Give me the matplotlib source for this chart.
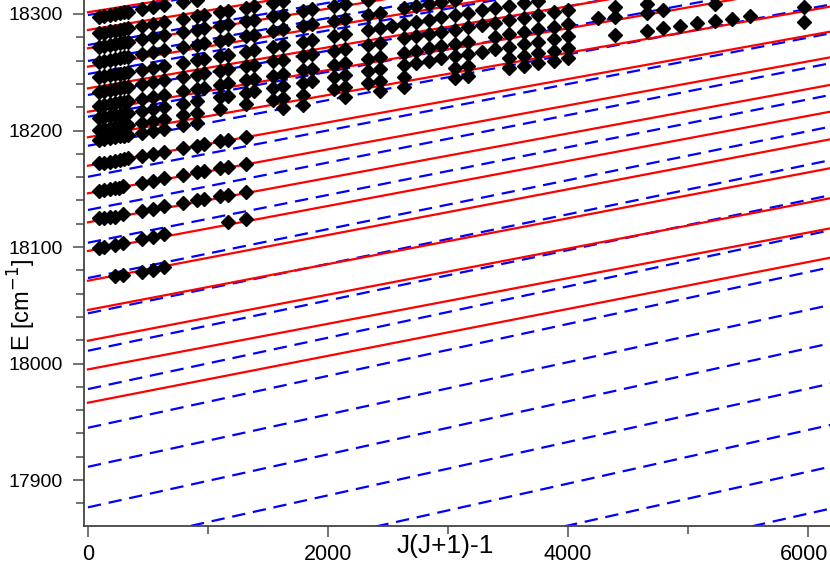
import matplotlib
matplotlib.use("Agg")
import matplotlib.pyplot as plt
import matplotlib.transforms as mtransforms
from matplotlib.ticker import MultipleLocator

plt.rcParams['font.family'] = ['Liberation Sans', 'DejaVu Sans']

# Red (solid) level lines: energy at J(J+1)-1 = 0 and slope (B value)
red_E0 = [17966.4, 17995.0, 18019.6, 18046.0, 18071.1, 18096.6, 18121.2, 18146.1,
          18169.8, 18194.2, 18216.1, 18236.2, 18254.8, 18270.6, 18286.3, 18301.5]
red_B = [0.02012, 0.01957, 0.01977, 0.01967, 0.01962, 0.01933, 0.01907, 0.01887,
         0.0186, 0.01813, 0.0179, 0.0176, 0.0173, 0.0170, 0.0167, 0.0164]

# Blue (dashed) level lines
blue_E0 = [17732.0, 17768.6, 17805.0, 17841.1, 17876.6, 17911.4, 17944.9, 17978.1,
           18011.0, 18043.1, 18073.4, 18103.7, 18131.8, 18160.3, 18186.9, 18211.8,
           18230.5, 18248.5, 18259.7, 18273.4, 18299.1]
blue_B = [0.0232, 0.0231, 0.0230, 0.0229, 0.02276, 0.02245, 0.02227, 0.02204,
          0.02158, 0.02125, 0.0210, 0.0205, 0.02036, 0.0199, 0.0196, 0.0193,
          0.0190, 0.0187, 0.0184, 0.0181, 0.0178]

# ---- Observed term values (black diamonds), x = J(J+1)-1 ----
rowA_x = [225, 294, 447, 539, 633]
rowA_E = [18075.5, 18076.0, 18079.0, 18080.5, 18082.5]
rowB_x = [92, 133, 225, 294, 447, 539, 633, 1169, 1314]
rowB_E = [18099.5, 18100.0, 18102.0, 18103.5, 18107.0, 18108.5, 18111.0, 18121.5, 18124.0]
rowC_x = [92, 133, 183, 225, 294, 447, 539, 633, 794, 906, 967, 1100, 1169, 1314]
rowC_E = [18124.5, 18125.0, 18125.5, 18126.0, 18128.0, 18131.0, 18133.0, 18135.0,
          18138.0, 18140.0, 18141.0, 18144.0, 18145.0, 18147.5]
rowD_x = [92, 133, 183, 225, 260, 294, 447, 539, 633, 794, 906, 967, 1100, 1169, 1314]
rowD_E = [18148.5, 18149.0, 18149.5, 18150.5, 18151.0, 18152.0, 18155.0, 18157.0,
          18159.0, 18162.0, 18164.0, 18165.0, 18167.5, 18169.0, 18171.5]
rowE_x = [92, 133, 183, 225, 270, 300, 330, 447, 539, 633, 794, 906, 967, 1100, 1169, 1314]
rowE_E = [18171.8, 18172.5, 18173.4, 18174.1, 18175.0, 18175.5, 18176.0, 18178.2,
          18180.0, 18181.8, 18184.8, 18186.9, 18188.1, 18190.6, 18191.9, 18194.6]

r1_x = [92, 133, 183, 225, 270, 300, 330, 450, 540, 635, 795, 905]
r1_E = [18297.7, 18298.4, 18299.3, 18300.1, 18300.9, 18301.4, 18301.9, 18304.1,
        18305.7, 18307.4, 18310.3, 18312.3]
r2_x = [92, 133, 183, 225, 270, 300, 330, 450, 540, 635, 795, 905, 965, 1100, 1170,
        1315, 1385, 1545, 1625]
r2_E = [18283.4, 18284.1, 18285.0, 18285.8, 18286.6, 18287.1, 18287.6, 18289.8,
        18291.4, 18293.1, 18296.0, 18298.0, 18299.1, 18301.5, 18302.8, 18305.4,
        18306.6, 18309.5, 18311.0]
r3_x = [92, 133, 183, 225, 270, 300, 330, 450, 540, 635, 795, 905, 965, 1100, 1170,
        1315, 1385, 1545, 1625, 1790, 1870, 2050, 2140, 2330]
r3_E = [18271.9, 18272.6, 18273.5, 18274.3, 18275.1, 18275.6, 18276.1, 18278.3,
        18279.9, 18281.6, 18284.5, 18286.5, 18287.6, 18290.0, 18291.3, 18293.9,
        18295.1, 18298.0, 18299.5, 18302.4, 18303.9, 18307.1, 18308.7, 18312.1]
r4_x = [92, 133, 183, 225, 270, 300, 330, 450, 540, 635, 795, 905, 965, 1100, 1170,
        1315, 1385, 1545, 1625, 1790, 1870, 2050, 2140, 2330, 2430, 2635, 2735,
        2840, 2945, 3055]
r4_E = [18259.1, 18259.8, 18260.7, 18261.5, 18262.3, 18262.8, 18263.3, 18265.5,
        18267.1, 18268.8, 18271.7, 18273.7, 18274.8, 18277.2, 18278.5, 18281.1,
        18282.3, 18285.2, 18286.7, 18289.6, 18291.1, 18294.3, 18295.9, 18299.3,
        18301.1, 18304.8, 18306.6, 18308.5, 18310.4, 18312.4]
r5_x = [92, 133, 183, 225, 270, 300, 330, 450, 540, 635, 795, 905, 965, 1100, 1170,
        1315, 1385, 1545, 1625, 1790, 1870, 2050, 2140, 2330, 2430, 2530, 2635,
        2735, 2840, 2945, 3055, 3165, 3280, 3390, 3510, 3630, 3750]
r5_E = [18245.7, 18246.4, 18247.3, 18248.1, 18248.9, 18249.4, 18249.9, 18252.1,
        18253.7, 18255.4, 18258.3, 18260.3, 18261.4, 18263.8, 18265.1, 18267.7,
        18268.9, 18271.8, 18273.3, 18276.2, 18277.7, 18280.9, 18282.5, 18285.9,
        18287.7, 18289.5, 18291.4, 18293.2, 18295.1, 18297.0, 18299.0, 18301.0,
        18303.0, 18305.0, 18307.2, 18309.3, 18311.5]
r6_x = [92, 133, 183, 225, 270, 300, 330, 450, 540, 635, 795, 905, 965, 1100, 1170,
        1315, 1385, 1545, 1625, 1790, 1870, 2050, 2140, 2330, 2430, 2635, 2735,
        2840, 2945, 3055, 3165, 3280, 3390, 3510, 3630, 3750, 3880, 4000]
r6_E = [18233.3, 18234.0, 18234.9, 18235.7, 18236.5, 18237.0, 18237.5, 18239.7,
        18241.3, 18243.0, 18245.9, 18247.9, 18249.0, 18251.4, 18252.7, 18255.3,
        18256.5, 18259.4, 18260.9, 18263.8, 18265.3, 18268.5, 18270.1, 18273.5,
        18275.3, 18279.0, 18280.8, 18282.7, 18284.6, 18286.6, 18288.6, 18290.6,
        18292.6, 18294.8, 18296.9, 18299.1, 18301.4, 18303.6]
r7_x = [92, 133, 183, 225, 270, 300, 330, 450, 540, 635, 795, 905, 965, 1100, 1170,
        1315, 1385, 1545, 1625, 1790, 1870, 2050, 2140, 2330, 2430, 2635, 2735,
        2840, 2945, 3055, 3165, 3390, 3510, 3630, 3750, 3880, 4000]
r7_E = [18221.0, 18221.7, 18222.6, 18223.4, 18224.2, 18224.7, 18225.2, 18227.4,
        18229.0, 18230.7, 18233.6, 18235.6, 18236.7, 18239.1, 18240.4, 18243.0,
        18244.2, 18247.1, 18248.6, 18251.5, 18253.0, 18256.2, 18257.8, 18261.2,
        18263.0, 18266.7, 18268.5, 18270.4, 18272.3, 18274.3, 18276.3, 18280.3,
        18282.5, 18284.6, 18286.8, 18289.1, 18291.3]
r8_x = [92, 133, 183, 225, 270, 300, 330, 450, 540, 635, 795, 905, 1100, 1170, 1315,
        1385, 1545, 1625, 1790, 1870, 2050, 2140, 2330, 2430, 2635, 2735, 2840,
        2945, 3055, 3165, 3280, 3390, 3510, 3630, 3750, 3880, 4000]
r8_E = [18210.5, 18211.2, 18212.1, 18212.9, 18213.7, 18214.2, 18214.7, 18216.9,
        18218.5, 18220.2, 18223.1, 18225.1, 18228.6, 18229.9, 18232.5, 18233.7,
        18236.6, 18238.1, 18241.0, 18242.5, 18245.7, 18247.3, 18250.7, 18252.5,
        18256.2, 18258.0, 18259.9, 18261.8, 18263.8, 18265.8, 18267.8, 18269.8,
        18272.0, 18274.1, 18276.3, 18278.6, 18280.8]
r9_x = [92, 133, 183, 225, 270, 300, 330, 450, 540, 635, 795, 905, 1100, 1315, 1545,
        1625, 1790, 2050, 2140, 2330, 2430, 2635, 3055, 3165, 3510, 3630, 3750,
        3880, 4000]
r9_E = [18200.4, 18201.1, 18202.0, 18202.8, 18203.6, 18204.1, 18204.6, 18206.8,
        18208.4, 18210.1, 18213.0, 18215.0, 18218.5, 18222.4, 18226.5, 18228.0,
        18230.9, 18235.6, 18237.2, 18240.6, 18242.4, 18246.1, 18253.7, 18255.7,
        18261.9, 18264.0, 18266.2, 18268.5, 18270.7]
r10_x = [92, 133, 183, 225, 270, 300, 330, 450, 540, 635, 795, 905, 1625, 1790, 2140,
         2430, 2635, 3055, 3165, 3510, 3630, 3750, 3880, 4000]
r10_E = [18191.8, 18192.5, 18193.4, 18194.2, 18195.0, 18195.5, 18196.0, 18198.2,
         18199.8, 18201.5, 18204.4, 18206.4, 18219.4, 18222.3, 18228.6, 18233.8,
         18237.5, 18245.1, 18247.1, 18253.3, 18255.4, 18257.6, 18259.9, 18262.1]
# sparse high-J points
far_x = [4253, 4392, 4392, 4392, 4656, 4656, 4656, 4794, 4794, 4933, 5078, 5225,
         5225, 5364, 5517, 5967, 5967]
far_E = [18296.3, 18306.3, 18297.7, 18282.0, 18308.6, 18300.6, 18285.7, 18303.4,
         18287.7, 18289.7, 18292.0, 18294.0, 18308.6, 18295.7, 18298.3, 18305.8,
         18292.9]

obs_rows = [(rowA_x, rowA_E), (rowB_x, rowB_E), (rowC_x, rowC_E), (rowD_x, rowD_E),
            (rowE_x, rowE_E), (r1_x, r1_E), (r2_x, r2_E), (r3_x, r3_E), (r4_x, r4_E),
            (r5_x, r5_E), (r6_x, r6_E), (r7_x, r7_E), (r8_x, r8_E), (r9_x, r9_E),
            (r10_x, r10_E), (far_x, far_E)]

x_ticks = [0, 2000, 4000, 6000]
y_ticks = [17900, 18000, 18100, 18200, 18300]

fig = plt.figure(figsize=(8.3, 5.67), dpi=100)
ax = fig.add_axes([84 / 830, 41 / 567, 746 / 830, 526 / 567])

xmin, xmax = -33, 6183
ymin, ymax = 17860.6, 18312
xs = [0, 6400]
for e0, b in zip(blue_E0, blue_B):
    ax.plot(xs, [e0 + b * x for x in xs], color='#0000ff', lw=1.6,
            dashes=(6, 3.5), zorder=2)
for e0, b in zip(red_E0, red_B):
    ax.plot(xs, [e0 + b * x for x in xs], color='#ff0000', lw=1.6, zorder=3)
for rx, rE in obs_rows:
    ax.plot(rx, rE, linestyle='none', marker='D', ms=7, color='black', zorder=4)

ax.set_xlim(xmin, xmax)
ax.set_ylim(ymin, ymax)
ax.set_xticks(x_ticks)
ax.set_yticks(y_ticks)
ax.xaxis.set_minor_locator(MultipleLocator(1000))
ax.yaxis.set_minor_locator(MultipleLocator(20))
for s in ['top', 'right']:
    ax.spines[s].set_visible(False)
for s in ['left', 'bottom']:
    ax.spines[s].set_color('#444444')
    ax.spines[s].set_linewidth(1.3)
ax.tick_params(which='major', direction='out', length=8, width=1.3, color='#666666')
ax.tick_params(which='minor', direction='out', length=6, width=1.3, color='#666666')
ax.tick_params(axis='y', which='major', labelsize=14, pad=7)
ax.tick_params(axis='x', which='major', labelsize=15.5, pad=5)

# keep the last x tick label inside the figure edge
last = ax.xaxis.get_major_ticks()[-1].label1
last.set_transform(last.get_transform() +
                   mtransforms.ScaledTranslation(-4 / 100, 0, fig.dpi_scale_trans))

fig.text(22 / 830, 1 - 305 / 567, 'E [cm$^{-1}$]', rotation=90, ha='center',
         va='center', fontsize=17)
fig.text(445 / 830, 1 - 546 / 567, 'J(J+1)-1', ha='center', va='center',
         fontsize=19)

fig.savefig('out.png', dpi=100)
